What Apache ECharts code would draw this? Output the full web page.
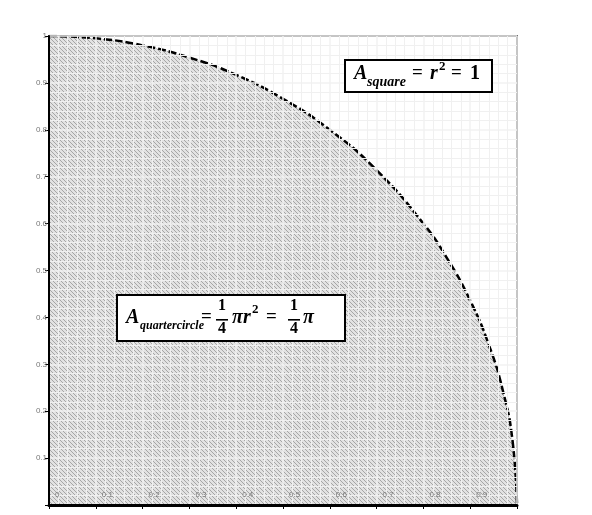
<!DOCTYPE html>
<html><head><meta charset="utf-8">
<script src="https://cdn.jsdelivr.net/npm/echarts@6/dist/echarts.min.js"></script>
<style>html,body{margin:0;background:#fff}#c{width:592px;height:515px}</style>
</head><body><div id="c"></div>
<script>
// quarter circle
var arcX = [0, 0.1, 0.2, 0.3, 0.4, 0.5, 0.6, 0.7, 0.8, 0.85, 0.9, 0.94, 0.97, 0.99, 1];
var arcY = [1, 0.995, 0.98, 0.954, 0.917, 0.866, 0.8, 0.714, 0.6, 0.527, 0.436, 0.341, 0.243, 0.141, 0];
var tickLabels = ['0', '0.1', '0.2', '0.3', '0.4', '0.5', '0.6', '0.7', '0.8', '0.9', '1'];

// hatch pattern
var pc = document.createElement('canvas');
pc.width = 4; pc.height = 4;
var g = pc.getContext('2d');
g.fillStyle = '#e2e2e2'; g.fillRect(0, 0, 4, 4);
g.strokeStyle = '#a6a6a6'; g.lineWidth = 1;
g.beginPath(); g.moveTo(0, 0); g.lineTo(4, 4); g.moveTo(-2, 2); g.lineTo(2, 6); g.moveTo(2, -2); g.lineTo(6, 2); g.stroke();

var data = arcX.map(function (x, i) { return [x, arcY[i]]; });
var chart = echarts.init(document.getElementById('c'));
var sl = { show: true, lineStyle: { color: '#f2f2f2', width: 1.5 } };
var msl = { show: true, lineStyle: { color: '#f0f0f0', width: 1 } };
var serif = '"Liberation Serif", serif';
function t(x, y, s, size) {
  return { type: 'text', left: x, top: y, z: 10, style: { text: s, font: 'italic bold ' + size + 'px ' + serif, fill: '#000' } };
}
function n(x, y, s, size) {
  return { type: 'text', left: x, top: y, z: 10, style: { text: s, font: 'bold ' + size + 'px ' + serif, fill: '#000' } };
}
chart.setOption({
  animation: false,
  grid: { left: 49, right: 75, top: 36, bottom: 10, show: true, borderColor: '#000', borderWidth: 1.5 },
  xAxis: {
    type: 'value', min: 0, max: 1, interval: 0.1, z: 3,
    axisLine: { lineStyle: { color: '#000', width: 3 } },
    axisTick: { show: true, length: 4, lineStyle: { color: '#000' } },
    axisLabel: { inside: true, margin: 4, color: '#777', fontSize: 8, align: 'left', verticalAlign: 'bottom',
      formatter: function (v) { var s = tickLabels[Math.round(v * 10)]; return s === '1' ? '' : s; },
      padding: [0, 0, 2, 6] },
    splitLine: sl,
    minorSplitLine: msl
  },
  yAxis: {
    type: 'value', min: 0, max: 1, interval: 0.1, z: 3,
    axisLine: { show: true, lineStyle: { color: '#000', width: 2 } },
    axisTick: { show: true, length: 4, lineStyle: { color: '#000' } },
    axisLabel: { color: '#777', fontSize: 8, margin: 2,
      formatter: function (v) { return v === 0 ? '' : tickLabels[Math.round(v * 10)]; } },
    splitLine: sl,
    minorSplitLine: msl
  },
  series: [{
    type: 'line', data: data, smooth: true, symbol: 'none', z: 2,
    lineStyle: { color: '#000', width: 2.5, type: [8, 3] },
    areaStyle: { color: { image: pc, repeat: 'repeat' }, opacity: 1 }
  }],
  graphic: [
    { type: 'rect', shape: { x: 345, y: 60, width: 147, height: 32 }, z: 9,
      style: { fill: '#fff', stroke: '#000', lineWidth: 2 } },
    t(354, 64, 'A', 20), t(367, 75, 'square', 14), n(412, 64, '=', 19), t(430, 64, 'r', 20),
    n(439, 60, '2', 13), n(451, 64, '=', 19), n(470, 64, '1', 20),
    { type: 'rect', shape: { x: 117, y: 295, width: 228, height: 46 }, z: 9,
      style: { fill: '#fff', stroke: '#000', lineWidth: 2 } },
    t(126, 308, 'A', 20), t(140, 320, 'quartercircle', 12), n(201, 308, '=', 19),
    n(218, 298, '1', 16), { type: 'rect', shape: { x: 216, y: 319, width: 12, height: 1.6 }, z: 10, style: { fill: '#000' } },
    n(218, 321, '4', 16), t(232, 308, 'πr', 20), n(252, 303, '2', 13), n(266, 308, '=', 19),
    n(290, 298, '1', 16), { type: 'rect', shape: { x: 288, y: 319, width: 12, height: 1.6 }, z: 10, style: { fill: '#000' } },
    n(290, 321, '4', 16), t(303, 308, 'π', 20)
  ]
});
</script></body></html>
